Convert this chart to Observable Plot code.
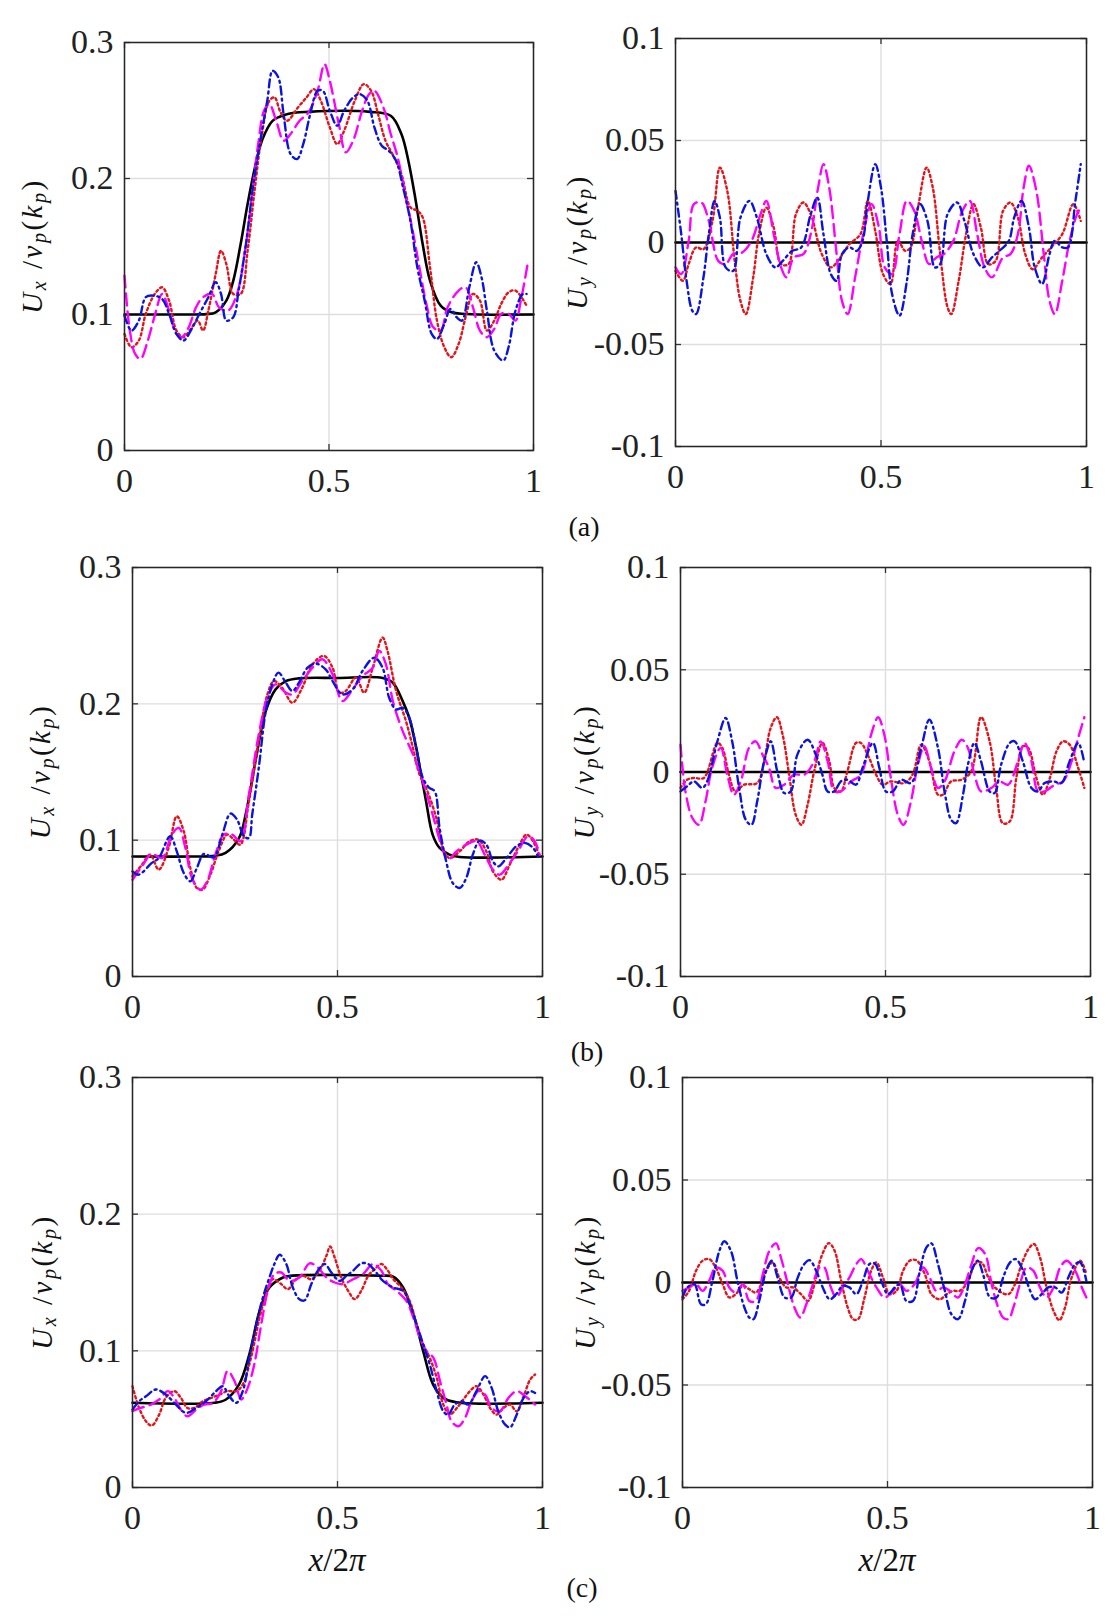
<!DOCTYPE html>
<html><head><meta charset="utf-8">
<script src="https://cdn.jsdelivr.net/npm/d3@7"></script>
<script src="https://cdn.jsdelivr.net/npm/@observablehq/plot@0.6"></script>
<style>
body{margin:0;background:#fff;}
#fig{position:relative;width:1117px;height:1619px;background:#fff;font-family:"Liberation Serif","Times New Roman",serif;color:#222;overflow:hidden;}
.panel{position:absolute;}
.cap{position:absolute;font-size:28px;transform:translate(-50%,-50%);line-height:1;color:#111;}
</style></head><body><div id="fig"></div>
<script>
// ---- tick values ----
const xTicks = [0, 0.5, 1];
const uxTicks = [0, 0.1, 0.2, 0.3];
const uyTicks = [-0.1, -0.05, 0, 0.05, 0.1];
const captions = ["(a)", "(b)", "(c)"];

// ---- panel (a) Ux ----
const aUxBlack = [[0,0.1],[0.15,0.1],[0.2,0.1003],[0.223,0.1016],[0.249,0.1102],[0.266,0.1249],[0.284,0.1518],[0.301,0.1812],[0.319,0.2082],[0.336,0.2278],[0.362,0.2424],[0.397,0.2473],[0.45,0.249],[0.6,0.249],[0.651,0.2461],[0.677,0.2327],[0.694,0.2131],[0.712,0.1837],[0.729,0.1518],[0.747,0.1249],[0.773,0.1065],[0.8,0.1016],[0.85,0.1002],[1,0.1]];
const aUxBlue = [[0,0.0992],[0.017,0.0882],[0.035,0.0955],[0.052,0.1127],[0.07,0.1139],[0.092,0.1114],[0.109,0.1004],[0.127,0.0857],[0.144,0.0808],[0.162,0.0882],[0.183,0.1004],[0.205,0.1127],[0.223,0.1237],[0.236,0.1151],[0.249,0.0955],[0.266,0.098],[0.279,0.1176],[0.297,0.1518],[0.314,0.1935],[0.332,0.2278],[0.349,0.2571],[0.362,0.2792],[0.376,0.2743],[0.389,0.2473],[0.406,0.218],[0.422,0.2143],[0.437,0.2253],[0.454,0.2473],[0.472,0.2645],[0.485,0.2645],[0.502,0.2498],[0.52,0.2388],[0.537,0.2498],[0.559,0.2596],[0.576,0.262],[0.594,0.2571],[0.611,0.2376],[0.629,0.2241],[0.646,0.2204],[0.664,0.2131],[0.681,0.1935],[0.699,0.169],[0.716,0.1347],[0.734,0.1102],[0.751,0.0857],[0.764,0.082],[0.782,0.0931],[0.797,0.1041],[0.812,0.098],[0.825,0.0955],[0.843,0.12],[0.86,0.1384],[0.873,0.1273],[0.886,0.1029],[0.904,0.0735],[0.926,0.0661],[0.939,0.0759],[0.956,0.1029],[0.974,0.1151],[0.983,0.1151]];
const aUxRed = [[0,0.0857],[0.017,0.0759],[0.035,0.0808],[0.052,0.1004],[0.074,0.1151],[0.092,0.12],[0.109,0.1102],[0.127,0.0882],[0.144,0.0833],[0.162,0.0894],[0.179,0.0955],[0.192,0.0882],[0.205,0.1029],[0.223,0.1298],[0.236,0.1469],[0.249,0.1371],[0.266,0.1151],[0.284,0.1151],[0.301,0.1469],[0.319,0.1935],[0.336,0.2327],[0.354,0.2571],[0.367,0.2596],[0.38,0.2498],[0.397,0.2424],[0.424,0.2522],[0.445,0.2596],[0.463,0.2657],[0.48,0.2571],[0.502,0.2376],[0.52,0.2253],[0.537,0.2351],[0.563,0.2571],[0.585,0.2694],[0.603,0.2645],[0.62,0.2473],[0.638,0.2278],[0.655,0.218],[0.677,0.2033],[0.699,0.1788],[0.716,0.1763],[0.729,0.1714],[0.747,0.1347],[0.764,0.0955],[0.782,0.0759],[0.799,0.0686],[0.817,0.0784],[0.834,0.098],[0.852,0.1151],[0.869,0.1102],[0.886,0.0882],[0.904,0.0955],[0.921,0.1078],[0.939,0.1163],[0.956,0.1176],[0.983,0.1065]];
const aUxMagenta = [[0,0.1286],[0.013,0.0882],[0.026,0.071],[0.039,0.0673],[0.057,0.0808],[0.074,0.0992],[0.092,0.1151],[0.109,0.1029],[0.127,0.0857],[0.14,0.0833],[0.157,0.0906],[0.175,0.1053],[0.192,0.1127],[0.214,0.1151],[0.231,0.1053],[0.253,0.1029],[0.275,0.1151],[0.297,0.1518],[0.314,0.1935],[0.328,0.2278],[0.341,0.2498],[0.354,0.2547],[0.371,0.2424],[0.389,0.2278],[0.406,0.2327],[0.428,0.2424],[0.45,0.2486],[0.472,0.2645],[0.489,0.2841],[0.502,0.2718],[0.524,0.24],[0.541,0.2192],[0.559,0.2278],[0.581,0.2498],[0.598,0.262],[0.611,0.2645],[0.633,0.2522],[0.651,0.2327],[0.668,0.2155],[0.686,0.1886],[0.703,0.1641],[0.721,0.1347],[0.738,0.1078],[0.755,0.0906],[0.773,0.0882],[0.79,0.1053],[0.817,0.1176],[0.834,0.12],[0.852,0.1053],[0.869,0.0882],[0.886,0.0833],[0.904,0.0894],[0.921,0.1004],[0.939,0.1004],[0.956,0.0955],[0.969,0.1102],[0.987,0.1396]];

// ---- panel (a) Uy ----
const aUyBlack = [[0,0],[1,0]];
const aUyBlue = [[0,0.0253],[0.014,0.0041],[0.027,-0.0188],[0.041,-0.0335],[0.05,-0.0351],[0.068,-0.0171],[0.081,0.0041],[0.095,0.0204],[0.108,0.0122],[0.122,-0.0122],[0.14,-0.0139],[0.158,0.0122],[0.18,0.0204],[0.198,0.0122],[0.221,-0.0057],[0.243,-0.0122],[0.261,-0.009],[0.284,-0.0041],[0.306,-0.0024],[0.329,0.0139],[0.345,0.022],[0.36,0.0041],[0.378,-0.0155],[0.392,-0.0188],[0.405,-0.0057],[0.423,-0.0024],[0.441,-0.0041],[0.455,0.0008],[0.468,0.0204],[0.486,0.0384],[0.5,0.0269],[0.514,0.0008],[0.527,-0.0253],[0.545,-0.0359],[0.563,-0.0188],[0.577,0.0041],[0.595,0.0188],[0.613,0.0106],[0.631,-0.0122],[0.644,-0.0106],[0.662,0.0139],[0.685,0.0196],[0.703,0.0106],[0.725,-0.0057],[0.748,-0.0122],[0.77,-0.0073],[0.788,-0.0041],[0.811,0.0008],[0.824,0.0122],[0.842,0.0204],[0.86,0.0073],[0.874,-0.0122],[0.892,-0.0204],[0.91,-0.0057],[0.923,0.0008],[0.941,-0.0024],[0.955,-0.0024],[0.973,0.0204],[0.986,0.0384]];
const aUyRed = [[0,-0.0139],[0.018,-0.0188],[0.032,-0.0106],[0.05,-0.0024],[0.068,-0.0033],[0.09,0.0106],[0.108,0.0367],[0.126,0.0253],[0.144,-0.009],[0.158,-0.0286],[0.171,-0.0351],[0.189,-0.0171],[0.203,0.0041],[0.221,0.0171],[0.239,0.0073],[0.257,-0.0106],[0.275,-0.0106],[0.293,0.0139],[0.311,0.0196],[0.329,0.0139],[0.356,-0.0057],[0.378,-0.0122],[0.401,-0.0073],[0.423,-0.0008],[0.45,0.0041],[0.468,0.0204],[0.486,0.0057],[0.505,-0.0155],[0.523,-0.0204],[0.541,0.0008],[0.559,-0.0041],[0.572,-0.0024],[0.59,0.0171],[0.611,0.0367],[0.626,0.0269],[0.644,-0.0057],[0.662,-0.0318],[0.671,-0.0351],[0.689,-0.0188],[0.707,0.0041],[0.725,0.0188],[0.743,0.0073],[0.761,-0.0106],[0.779,-0.009],[0.797,0.0155],[0.815,0.0196],[0.833,0.0122],[0.851,-0.0057],[0.869,-0.0131],[0.892,-0.0073],[0.914,-0.0024],[0.941,0.0041],[0.968,0.0188],[0.986,0.0106]];
const aUyMagenta = [[0,-0.0122],[0.014,-0.0155],[0.032,0.0008],[0.045,0.0188],[0.063,0.0196],[0.081,0.0106],[0.104,-0.009],[0.122,-0.0106],[0.14,-0.0057],[0.162,-0.0049],[0.185,0.0008],[0.207,0.0139],[0.221,0.0204],[0.239,0.0041],[0.257,-0.0122],[0.27,-0.0171],[0.288,-0.0073],[0.311,-0.0057],[0.329,0.0041],[0.347,0.0269],[0.36,0.0384],[0.374,0.0269],[0.392,-0.0057],[0.405,-0.0286],[0.419,-0.0351],[0.437,-0.0171],[0.455,0.0024],[0.477,0.0188],[0.495,0.0073],[0.509,-0.0122],[0.527,-0.0155],[0.545,0.0041],[0.563,0.0204],[0.581,0.0155],[0.599,0.0008],[0.617,-0.0106],[0.635,-0.0073],[0.653,-0.0057],[0.676,0.0008],[0.698,0.0155],[0.716,0.0204],[0.734,0.0041],[0.752,-0.0122],[0.77,-0.0171],[0.797,-0.0073],[0.815,-0.0057],[0.833,0.0041],[0.847,0.0269],[0.86,0.0376],[0.878,0.0253],[0.896,-0.0057],[0.91,-0.0286],[0.923,-0.0351],[0.941,-0.0188],[0.959,0.0008],[0.977,0.0139],[0.986,0.0171]];

// ---- panel (b) Ux ----
const bUxBlack = [[0,0.088],[0.15,0.088],[0.2,0.0885],[0.227,0.0906],[0.26,0.1016],[0.276,0.1188],[0.3,0.158],[0.325,0.1947],[0.349,0.2106],[0.374,0.2167],[0.406,0.2187],[0.5,0.219],[0.61,0.219],[0.635,0.2155],[0.659,0.202],[0.675,0.1898],[0.692,0.1678],[0.704,0.148],[0.716,0.1286],[0.732,0.1041],[0.749,0.0943],[0.773,0.0894],[0.798,0.0877],[1,0.088]];
const bUxBlue = [[0,0.0771],[0.015,0.0747],[0.047,0.0833],[0.064,0.0869],[0.092,0.1029],[0.108,0.0918],[0.125,0.0759],[0.141,0.0698],[0.157,0.0796],[0.174,0.0899],[0.198,0.0874],[0.219,0.1041],[0.239,0.1195],[0.255,0.1151],[0.272,0.1029],[0.284,0.1016],[0.292,0.1188],[0.308,0.1531],[0.325,0.1947],[0.341,0.2143],[0.356,0.2229],[0.374,0.2155],[0.39,0.2094],[0.406,0.2155],[0.427,0.2265],[0.447,0.2295],[0.471,0.2253],[0.488,0.2167],[0.512,0.2069],[0.537,0.2106],[0.561,0.2241],[0.59,0.2339],[0.61,0.2265],[0.626,0.2045],[0.643,0.1959],[0.659,0.1971],[0.675,0.1898],[0.692,0.1678],[0.708,0.1457],[0.724,0.1384],[0.737,0.1359],[0.749,0.109],[0.765,0.0845],[0.781,0.0686],[0.798,0.0649],[0.814,0.0722],[0.83,0.0894],[0.847,0.0997],[0.863,0.0967],[0.879,0.0845],[0.892,0.0808],[0.912,0.0869],[0.936,0.0955],[0.957,0.098],[0.977,0.0943],[0.989,0.0882]];
const bUxRed = [[0,0.0735],[0.023,0.082],[0.043,0.0894],[0.064,0.0784],[0.088,0.0943],[0.108,0.1176],[0.125,0.1065],[0.141,0.0796],[0.157,0.0649],[0.171,0.0637],[0.19,0.0747],[0.21,0.0918],[0.231,0.1041],[0.247,0.1004],[0.263,0.0967],[0.284,0.1286],[0.308,0.1727],[0.329,0.2069],[0.345,0.2167],[0.365,0.2118],[0.39,0.2008],[0.414,0.2118],[0.439,0.229],[0.467,0.2351],[0.488,0.2265],[0.504,0.2082],[0.52,0.2094],[0.545,0.2192],[0.565,0.2082],[0.586,0.2265],[0.61,0.2486],[0.622,0.2388],[0.643,0.2094],[0.667,0.1873],[0.684,0.1678],[0.7,0.1482],[0.716,0.1384],[0.741,0.1163],[0.757,0.0943],[0.773,0.0869],[0.798,0.0918],[0.822,0.0992],[0.843,0.1004],[0.863,0.0918],[0.879,0.0771],[0.9,0.071],[0.92,0.082],[0.94,0.0943],[0.961,0.1041],[0.977,0.0992],[0.993,0.0882]];
const bUxMagenta = [[0,0.071],[0.023,0.0808],[0.047,0.0899],[0.072,0.0869],[0.096,0.1041],[0.113,0.109],[0.129,0.0943],[0.145,0.0722],[0.166,0.0637],[0.182,0.0698],[0.202,0.0894],[0.223,0.1041],[0.243,0.1041],[0.263,0.0992],[0.284,0.1335],[0.308,0.1776],[0.329,0.2045],[0.349,0.2143],[0.374,0.2082],[0.39,0.2069],[0.414,0.2167],[0.439,0.2265],[0.463,0.2327],[0.488,0.2216],[0.512,0.202],[0.537,0.2106],[0.561,0.2204],[0.586,0.2265],[0.602,0.2388],[0.618,0.229],[0.635,0.202],[0.659,0.18],[0.684,0.1629],[0.708,0.1433],[0.732,0.1188],[0.753,0.0967],[0.769,0.0857],[0.79,0.0918],[0.814,0.0967],[0.839,0.0992],[0.859,0.0894],[0.879,0.0784],[0.896,0.0747],[0.92,0.0833],[0.94,0.0918],[0.965,0.1029],[0.981,0.0992],[0.993,0.0894]];

// ---- panel (b) Uy ----
const bUyBlack = [[0,0],[1,0]];
const bUyBlue = [[0,-0.0095],[0.016,-0.007],[0.033,-0.0046],[0.053,-0.0078],[0.065,-0.0046],[0.09,0.015],[0.11,0.0264],[0.126,0.015],[0.143,-0.0078],[0.159,-0.0233],[0.173,-0.0258],[0.187,-0.0144],[0.204,0.0052],[0.22,0.015],[0.236,0.0003],[0.253,-0.0103],[0.269,-0.0095],[0.285,0.0085],[0.31,0.0158],[0.33,0.0085],[0.346,-0.0013],[0.359,-0.0095],[0.375,-0.0095],[0.391,-0.0046],[0.407,-0.0038],[0.428,-0.0062],[0.444,0.002],[0.469,0.0142],[0.485,0.002],[0.501,-0.0095],[0.518,-0.0095],[0.538,-0.0038],[0.562,-0.0054],[0.587,0.0118],[0.607,0.0256],[0.628,0.0118],[0.644,-0.0095],[0.66,-0.0233],[0.672,-0.025],[0.689,-0.0111],[0.701,0.0036],[0.717,0.0142],[0.733,0.0052],[0.754,-0.0095],[0.766,-0.0103],[0.782,0.0036],[0.803,0.0142],[0.815,0.015],[0.835,0.0052],[0.856,-0.0078],[0.872,-0.0095],[0.888,-0.0054],[0.909,-0.0046],[0.929,-0.0054],[0.949,0.0052],[0.97,0.0142],[0.985,0.0044]];
const bUyRed = [[0,-0.0078],[0.016,-0.0038],[0.033,-0.0029],[0.057,-0.0029],[0.09,0.0142],[0.102,0.0118],[0.118,-0.0013],[0.134,-0.0095],[0.155,-0.0062],[0.187,-0.0054],[0.204,0.0052],[0.22,0.0216],[0.235,0.0268],[0.249,0.0183],[0.265,-0.0013],[0.281,-0.0209],[0.295,-0.0258],[0.31,-0.016],[0.326,0.0003],[0.346,0.0142],[0.363,0.0052],[0.375,-0.0078],[0.391,-0.0095],[0.407,0.0003],[0.428,0.0142],[0.44,0.0142],[0.46,0.0069],[0.477,-0.0013],[0.493,-0.0062],[0.513,-0.0046],[0.546,-0.0054],[0.566,-0.0013],[0.587,0.0134],[0.607,0.0052],[0.628,-0.0111],[0.64,-0.0111],[0.66,-0.0046],[0.685,-0.0038],[0.709,0.0003],[0.733,0.0268],[0.754,0.015],[0.77,-0.0078],[0.786,-0.025],[0.803,-0.0242],[0.819,-0.0029],[0.835,0.0126],[0.848,0.0118],[0.868,-0.0029],[0.884,-0.0111],[0.901,-0.0029],[0.917,0.0101],[0.933,0.015],[0.949,0.0134],[0.97,0.002],[0.985,-0.0078]];
const bUyMagenta = [[0,0.0134],[0.012,-0.0095],[0.029,-0.0225],[0.045,-0.0258],[0.061,-0.0144],[0.077,0.002],[0.098,0.0118],[0.114,-0.0013],[0.13,-0.0111],[0.147,-0.0046],[0.167,0.0118],[0.183,0.015],[0.2,0.0085],[0.216,0.002],[0.232,-0.0078],[0.253,-0.0062],[0.277,-0.0013],[0.302,-0.0013],[0.326,0.0052],[0.342,0.015],[0.359,0.0052],[0.375,-0.0095],[0.391,-0.0095],[0.416,-0.0046],[0.44,-0.0013],[0.465,0.0183],[0.482,0.0268],[0.497,0.0183],[0.513,-0.0029],[0.53,-0.0209],[0.544,-0.0258],[0.562,-0.0144],[0.579,0.0036],[0.595,0.0126],[0.611,0.002],[0.628,-0.0078],[0.644,-0.0046],[0.668,0.0101],[0.686,0.0158],[0.701,0.0118],[0.717,-0.0013],[0.733,-0.0095],[0.758,-0.0078],[0.778,-0.0046],[0.799,-0.0062],[0.823,0.0052],[0.839,0.0142],[0.856,0.0052],[0.872,-0.0095],[0.888,-0.0095],[0.913,-0.0062],[0.933,-0.0046],[0.954,0.0052],[0.97,0.0167],[0.985,0.0268]];

// ---- panel (c) Ux ----
const cUxBlack = [[0,0.062],[0.2,0.062],[0.228,0.0644],[0.26,0.0754],[0.285,0.0974],[0.31,0.1292],[0.334,0.1463],[0.367,0.1537],[0.39,0.155],[0.6,0.155],[0.636,0.1542],[0.66,0.1463],[0.685,0.1268],[0.709,0.0998],[0.733,0.0754],[0.758,0.0656],[0.79,0.0624],[1,0.062]];
const cUxBlue = [[0,0.057],[0.016,0.0631],[0.033,0.0668],[0.057,0.0717],[0.081,0.068],[0.106,0.0607],[0.13,0.0546],[0.155,0.0582],[0.179,0.0631],[0.204,0.0705],[0.22,0.0741],[0.236,0.0668],[0.253,0.0619],[0.269,0.0705],[0.285,0.0949],[0.302,0.1194],[0.318,0.139],[0.334,0.1537],[0.346,0.1635],[0.359,0.1703],[0.375,0.1635],[0.391,0.1463],[0.407,0.1378],[0.42,0.137],[0.436,0.1488],[0.452,0.1586],[0.469,0.1635],[0.485,0.1573],[0.505,0.1512],[0.522,0.1549],[0.538,0.1586],[0.558,0.164],[0.575,0.1635],[0.591,0.1586],[0.611,0.1512],[0.636,0.1463],[0.66,0.1439],[0.676,0.1341],[0.693,0.1194],[0.709,0.1047],[0.725,0.0901],[0.742,0.0705],[0.758,0.0558],[0.77,0.0533],[0.786,0.0607],[0.803,0.0631],[0.819,0.0607],[0.839,0.0705],[0.86,0.0815],[0.876,0.0729],[0.892,0.0558],[0.909,0.046],[0.921,0.044],[0.937,0.0533],[0.954,0.0656],[0.97,0.0705],[0.982,0.0692]];
const cUxRed = [[0,0.0741],[0.016,0.0582],[0.033,0.0484],[0.047,0.0453],[0.065,0.0533],[0.081,0.0656],[0.102,0.0705],[0.118,0.0656],[0.134,0.0582],[0.151,0.0582],[0.171,0.0631],[0.192,0.0656],[0.212,0.068],[0.232,0.0705],[0.253,0.0705],[0.269,0.0754],[0.289,0.0949],[0.31,0.1243],[0.326,0.1414],[0.342,0.1524],[0.363,0.1488],[0.379,0.1451],[0.399,0.1524],[0.416,0.1549],[0.436,0.1524],[0.456,0.1586],[0.473,0.1696],[0.482,0.1764],[0.493,0.1684],[0.509,0.1537],[0.526,0.1439],[0.542,0.1378],[0.558,0.1439],[0.575,0.1549],[0.591,0.1598],[0.607,0.1635],[0.623,0.1586],[0.636,0.1524],[0.656,0.1463],[0.676,0.1365],[0.693,0.1194],[0.709,0.1047],[0.725,0.0949],[0.742,0.0803],[0.758,0.0607],[0.774,0.0533],[0.791,0.0582],[0.807,0.0644],[0.823,0.0705],[0.839,0.0741],[0.856,0.068],[0.872,0.0582],[0.888,0.0533],[0.905,0.0582],[0.921,0.0607],[0.937,0.0558],[0.954,0.0668],[0.97,0.079],[0.982,0.0827]];
const cUxMagenta = [[0,0.0558],[0.02,0.0582],[0.045,0.0607],[0.065,0.0644],[0.086,0.0705],[0.102,0.0656],[0.118,0.057],[0.134,0.0521],[0.155,0.057],[0.175,0.0607],[0.196,0.0619],[0.216,0.0705],[0.232,0.0852],[0.249,0.0778],[0.265,0.0644],[0.281,0.0729],[0.297,0.0901],[0.314,0.1194],[0.33,0.1439],[0.346,0.1561],[0.363,0.1573],[0.383,0.1512],[0.407,0.1537],[0.432,0.164],[0.452,0.161],[0.473,0.1537],[0.493,0.15],[0.513,0.1488],[0.538,0.1524],[0.562,0.1561],[0.587,0.1635],[0.607,0.1586],[0.623,0.1488],[0.644,0.1439],[0.668,0.1365],[0.685,0.1243],[0.701,0.1096],[0.717,0.0998],[0.734,0.0949],[0.75,0.0778],[0.766,0.0607],[0.778,0.0484],[0.795,0.0448],[0.811,0.0509],[0.827,0.0631],[0.844,0.0705],[0.86,0.068],[0.876,0.0582],[0.896,0.0558],[0.917,0.0656],[0.937,0.0705],[0.958,0.0668],[0.982,0.0607]];

// ---- panel (c) Uy ----
const cUyBlack = [[0,0],[1,0]];
const cUyBlue = [[0,-0.0073],[0.012,-0.0024],[0.029,-0.0008],[0.045,-0.0106],[0.057,-0.0106],[0.073,0.0008],[0.09,0.0155],[0.102,0.0201],[0.118,0.0155],[0.134,0.0008],[0.151,-0.0122],[0.163,-0.0171],[0.173,-0.0179],[0.187,-0.009],[0.204,0.0057],[0.218,0.0106],[0.232,0.0024],[0.249,-0.0073],[0.265,-0.0073],[0.281,0.0024],[0.297,0.009],[0.31,0.0109],[0.326,0.0057],[0.342,-0.0024],[0.359,-0.0082],[0.375,-0.0057],[0.391,-0.0016],[0.407,-0.0024],[0.424,-0.0057],[0.44,0.0008],[0.456,0.009],[0.469,0.0093],[0.485,0.0008],[0.501,-0.0057],[0.518,-0.0024],[0.53,-0.0008],[0.546,-0.009],[0.562,-0.009],[0.579,0.0057],[0.595,0.0171],[0.607,0.0191],[0.623,0.009],[0.64,-0.0041],[0.656,-0.0155],[0.672,-0.0179],[0.689,-0.009],[0.705,0.0057],[0.72,0.0106],[0.733,0.0041],[0.75,-0.0073],[0.766,-0.0073],[0.782,0.0024],[0.799,0.0098],[0.813,0.0114],[0.831,0.0057],[0.848,-0.0041],[0.86,-0.0082],[0.876,-0.0057],[0.892,-0.0024],[0.909,-0.0024],[0.925,-0.0049],[0.941,0.0024],[0.958,0.009],[0.97,0.0098],[0.985,0.0008]];
const cUyRed = [[0,-0.0082],[0.016,-0.0041],[0.033,0.0057],[0.049,0.0106],[0.065,0.0114],[0.081,0.0073],[0.098,-0.0008],[0.114,-0.0073],[0.13,-0.0057],[0.147,-0.0016],[0.163,-0.0033],[0.179,-0.0049],[0.192,-0.0008],[0.204,0.0057],[0.22,0.0098],[0.236,0.0024],[0.253,-0.0024],[0.269,-0.0024],[0.289,-0.0057],[0.306,-0.009],[0.322,-0.0008],[0.338,0.0122],[0.357,0.0192],[0.371,0.0155],[0.387,0.0008],[0.403,-0.0122],[0.416,-0.0179],[0.428,-0.0179],[0.444,-0.0073],[0.46,0.0057],[0.473,0.0098],[0.489,0.0024],[0.505,-0.0057],[0.522,-0.0041],[0.538,0.0057],[0.554,0.0106],[0.57,0.0109],[0.591,0.0041],[0.607,-0.0057],[0.628,-0.0082],[0.644,-0.0057],[0.66,-0.0041],[0.676,-0.0041],[0.697,0.0008],[0.713,0.009],[0.729,0.0098],[0.746,0.0024],[0.762,-0.0024],[0.778,-0.0049],[0.795,-0.0057],[0.811,-0.0008],[0.827,0.009],[0.844,0.0163],[0.857,0.0188],[0.872,0.0122],[0.888,-0.0024],[0.905,-0.0139],[0.919,-0.0184],[0.933,-0.0122],[0.949,0.0024],[0.97,0.0106],[0.985,0.0041]];
const cUyMagenta = [[0,-0.0041],[0.016,-0.0024],[0.033,-0.0008],[0.049,-0.0041],[0.065,0.0008],[0.081,0.0073],[0.098,0.0057],[0.114,-0.0024],[0.13,-0.0049],[0.147,-0.0008],[0.163,-0.009],[0.179,-0.009],[0.196,0.0041],[0.212,0.0155],[0.228,0.0191],[0.24,0.0122],[0.257,-0.0008],[0.273,-0.0122],[0.287,-0.0171],[0.302,-0.0106],[0.318,-0.0008],[0.334,0.0073],[0.346,0.0073],[0.359,-0.0008],[0.375,-0.0073],[0.391,-0.0024],[0.407,0.0024],[0.424,0.009],[0.436,0.0114],[0.452,0.0057],[0.473,-0.0024],[0.493,-0.0073],[0.513,-0.0041],[0.53,-0.0008],[0.546,-0.0041],[0.566,-0.0008],[0.587,0.0073],[0.603,0.0024],[0.619,-0.0041],[0.636,-0.0024],[0.652,-0.0041],[0.672,-0.0073],[0.689,-0.0008],[0.705,0.009],[0.721,0.0168],[0.738,0.0139],[0.754,-0.0008],[0.77,-0.0122],[0.782,-0.0171],[0.795,-0.0179],[0.807,-0.0122],[0.823,-0.0008],[0.839,0.0073],[0.856,0.0057],[0.872,-0.0024],[0.888,-0.0073],[0.905,-0.0024],[0.921,0.0073],[0.937,0.0106],[0.958,0.0057],[0.974,-0.0024],[0.985,-0.0073]];

// ---- layout (pixel positions, not data) ----
const panels = [
  {left:0,   fL:124, fT:42,   W:409, H:408, dom:[0,0.3],    ticks:uxTicks, comp:"x", off:92, s:[aUxBlack,aUxRed,aUxMagenta,aUxBlue], xl:false},
  {left:550, fL:675, fT:38,   W:411, H:408, dom:[-0.1,0.1], ticks:uyTicks, comp:"y", off:98, s:[aUyBlack,aUyRed,aUyMagenta,aUyBlue], xl:false},
  {left:0,   fL:132, fT:567,  W:410, H:409, dom:[0,0.3],    ticks:uxTicks, comp:"x", off:92, s:[bUxBlack,bUxRed,bUxMagenta,bUxBlue], xl:false},
  {left:550, fL:680, fT:567,  W:410, H:409, dom:[-0.1,0.1], ticks:uyTicks, comp:"y", off:96, s:[bUyBlack,bUyRed,bUyMagenta,bUyBlue], xl:false},
  {left:0,   fL:132, fT:1077, W:410, H:410, dom:[0,0.3],    ticks:uxTicks, comp:"x", off:90, s:[cUxBlack,cUxRed,cUxMagenta,cUxBlue], xl:true},
  {left:550, fL:682, fT:1077, W:410, H:410, dom:[-0.1,0.1], ticks:uyTicks, comp:"y", off:97, s:[cUyBlack,cUyRed,cUyMagenta,cUyBlue], xl:true}
];
const capPos = [[584,527],[587,1052],[582,1588]];

const styles = [
  {stroke:"#000000", strokeWidth:2.6},
  {stroke:"#e3141b", strokeWidth:2.4, strokeDasharray:"2.2,3"},
  {stroke:"#ff00ff", strokeWidth:2.4, strokeDasharray:"12,6"},
  {stroke:"#0a14e0", strokeWidth:2.4, strokeDasharray:"8,4,2,4"}
];

const fig = document.getElementById("fig");
const fmt = d => String(d);
const MT = 40;

panels.forEach(p => {
  const mL = p.fL - p.left, mB = p.xl ? 100 : 60, mR = 20;
  const X = d => d[0], Y = d => d[1];
  const chart = Plot.plot({
    width: mL + p.W + mR, height: MT + p.H + mB,
    marginLeft: mL, marginRight: mR, marginTop: MT, marginBottom: mB,
    x: {domain:[0,1]}, y: {domain:p.dom},
    style: {fontFamily:'"Liberation Serif","Times New Roman",serif', fontSize:"34px", color:"#222", background:"transparent", overflow:"visible"},
    marks: [
      Plot.gridX(xTicks, {stroke:"#dedede", strokeOpacity:1, strokeWidth:1.4}),
      Plot.gridY(p.ticks, {stroke:"#dedede", strokeOpacity:1, strokeWidth:1.4}),
      Plot.tickX(xTicks, {x:d=>d, insetTop:p.H-6, stroke:"#333", strokeWidth:1.3}),
      Plot.tickX(xTicks, {x:d=>d, insetBottom:p.H-6, stroke:"#333", strokeWidth:1.3}),
      Plot.tickY(p.ticks, {y:d=>d, insetRight:p.W-6, stroke:"#333", strokeWidth:1.3}),
      Plot.tickY(p.ticks, {y:d=>d, insetLeft:p.W-6, stroke:"#333", strokeWidth:1.3}),
      ...p.s.map((data,i) => Plot.line(data, {x:X, y:Y, curve:"catmull-rom", ...styles[i]})),
      Plot.frame({stroke:"#262626", strokeWidth:1.5}),
      Plot.axisX(xTicks, {tickSize:0, tickPadding:17, tickFormat:fmt, label:null, fill:"#222"}),
      Plot.axisY(p.ticks, {tickSize:0, tickPadding:11, tickFormat:fmt, label:null, fill:"#222"})
    ]
  });
  const div = document.createElement("div");
  div.className = "panel";
  div.style.left = p.left + "px";
  div.style.top = (p.fT - MT) + "px";
  div.style.width = (mL + p.W + mR) + "px";
  div.appendChild(chart);
  fig.appendChild(div);

  const svg = d3.select(chart);
  const fs = 29, sub = 20, sh = 7;
  const t = svg.append("text")
    .attr("transform", `translate(${mL - p.off},${MT + p.H/2}) rotate(-90)`)
    .attr("text-anchor","middle").attr("dominant-baseline","central")
    .attr("font-family",'"Liberation Serif","Times New Roman",serif')
    .attr("font-size",fs).attr("fill","#111").attr("letter-spacing","2.5px");
  t.append("tspan").attr("font-style","italic").text("U");
  t.append("tspan").attr("font-style","italic").attr("font-size",sub).attr("dy",sh).text(p.comp);
  t.append("tspan").attr("dy",-sh).text(" /");
  t.append("tspan").attr("font-style","italic").text("v");
  t.append("tspan").attr("font-style","italic").attr("font-size",sub).attr("dy",sh).text("p");
  t.append("tspan").attr("dy",-sh).text("(");
  t.append("tspan").attr("font-style","italic").text("k");
  t.append("tspan").attr("font-style","italic").attr("font-size",sub).attr("dy",sh).text("p");
  t.append("tspan").attr("dy",-sh).text(")");

  if (p.xl) {
    const xt = svg.append("text")
      .attr("x", mL + p.W/2).attr("y", MT + p.H + 73)
      .attr("text-anchor","middle").attr("dominant-baseline","central")
      .attr("font-family",'"Liberation Serif","Times New Roman",serif')
      .attr("font-size",33).attr("fill","#111");
    xt.append("tspan").attr("font-style","italic").text("x");
    xt.append("tspan").text("/2");
    xt.append("tspan").attr("font-style","italic").text("π");
  }
});

captions.forEach((c,i) => {
  const d = document.createElement("div");
  d.className = "cap";
  d.style.left = capPos[i][0] + "px";
  d.style.top = capPos[i][1] + "px";
  d.textContent = c;
  fig.appendChild(d);
});
</script>
</body></html>
